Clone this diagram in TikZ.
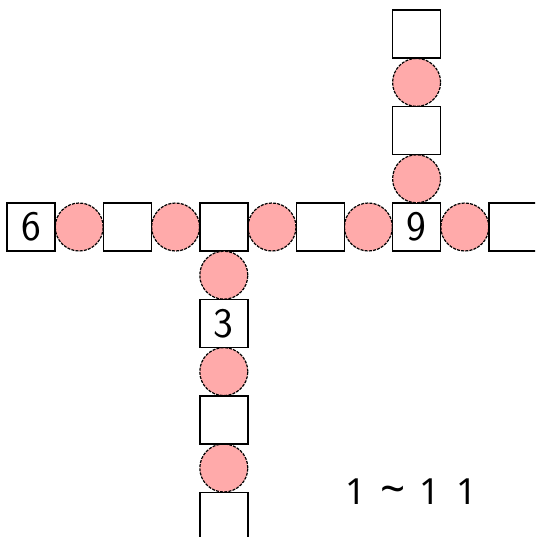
\documentclass[tikz,border=0pt]{standalone}
\usepackage{fontspec}
\setmainfont{Liberation Sans}
\newfontfamily\labelfont{Noto Sans}
\definecolor{pinkfill}{RGB}{255,170,170}
\begin{document}
\begin{tikzpicture}[x=1pt,y=-1pt,
  sq/.style={draw=black,line width=1.4pt,fill=white,minimum size=48pt,inner sep=0pt,
    font=\sffamily\fontsize{42}{44}\selectfont},
  dot/.style={circle,draw=black,line width=1.2pt,dash pattern=on 3pt off 1.2pt,fill=pinkfill,minimum size=48pt,inner sep=0pt}]
\useasboundingbox (0,0) rectangle (535,537);
\clip (0,0) rectangle (535,537);
\def\p{48.2}
% horizontal row
\foreach \i in {1,3,5,7,9}{\node[dot] (h\i) at (31+\i*\p,227) {};}
\foreach \i/\t in {0/6,2/,4/,6/,8/9,10/}{\node[sq] (h\i) at (31+\i*\p,227) {\t};}
% upward column from box 9
\foreach \k in {1,3}{\node[dot] (u\k) at (31+8*\p,227-\k*\p) {};}
\foreach \k in {2,4}{\node[sq] (u\k) at (31+8*\p,227-\k*\p) {};}
% downward column
\foreach \k in {1,3,5}{\node[dot] (d\k) at (31+4*\p,227+\k*\p) {};}
\foreach \k/\t in {2/3,4/,6/}{\node[sq] (d\k) at (31+4*\p,227+\k*\p) {\t};}
% label
\node[font=\labelfont\fontsize{36}{40}\selectfont,inner sep=0pt] (rng) at (411,492) {1\hspace{0.4em}{\fontsize{44}{40}\selectfont\textasciitilde}\hspace{0.4em}1\hspace{0.45em}1};
\end{tikzpicture}
\end{document}
